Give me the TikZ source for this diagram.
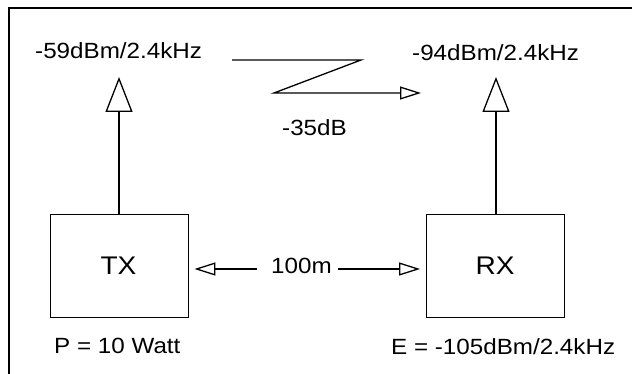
\documentclass[tikz,border=0pt]{standalone}
\usepackage{fontspec}
\setmainfont[FakeStretch=1.1]{Liberation Sans}
\usetikzlibrary{arrows.meta}
\tikzset{
  lbl/.style={inner sep=0pt, anchor=base west, font=\fontsize{22}{26}\selectfont},
  boxlbl/.style={inner sep=0pt, anchor=base, font=\fontsize{25.5}{30}\selectfont},
  unit/.style={draw, line width=0.9pt, minimum width=138pt, minimum height=103pt, inner sep=0pt},
  bigtip/.style={-{Triangle[open, length=35pt, width=27pt, fill=white]}, line width=1.3pt},
  smalltip/.style={-{Triangle[open, length=21pt, width=13pt, fill=white]}, line width=1.3pt}
}
\begin{document}
\begin{tikzpicture}[x=1pt,y=-1pt]
\useasboundingbox (0,0) rectangle (632,374);
% frame
\draw[line width=1.3pt] (632,8) -- (9,8) -- (9,374);
% boxes
\node[unit] (tx) at (119,265.5) {};
\node[unit] (rx) at (495.5,265.5) {};
\node[boxlbl] (txl) at (118.5,275) {TX};
\node[boxlbl] (rxl) at (495,275) {RX};
% labels
\node[lbl] (ltop) at (35,59) {-59dBm/2.4kHz};
\node[lbl] (rtop) at (412,61) {-94dBm/2.4kHz};
\node[lbl] (att) at (282,136) {-35dB};
\node[lbl] (pw) at (54,353) {P = 10 Watt};
\node[lbl] (ef) at (391,354) {E = -105dBm/2.4kHz};
\node[lbl] (dist) at (271,273) {100m};
% vertical arrows
\coordinate (ltip) at (119,77);
\coordinate (rtip) at (496,77);
\draw[bigtip] (tx.north) -- (ltip);
\draw[bigtip] (rx.north -| rtip) -- (rtip);
% distance arrows
\coordinate (dl) at (257,269);
\coordinate (dr) at (338,269);
\draw[smalltip, shorten >=6pt] (dl) -- (tx.east |- dl);
\draw[smalltip, shorten >=6pt] (dr) -- (rx.west |- dr);
% zigzag path loss
\coordinate (z1) at (232,60);
\coordinate (z2) at (361,60);
\coordinate (z3) at (274,93);
\coordinate (z4) at (421,93);
\draw[smalltip, line join=miter] (z1) -- (z2) -- (z3) -- (z4);
\end{tikzpicture}
\end{document}
